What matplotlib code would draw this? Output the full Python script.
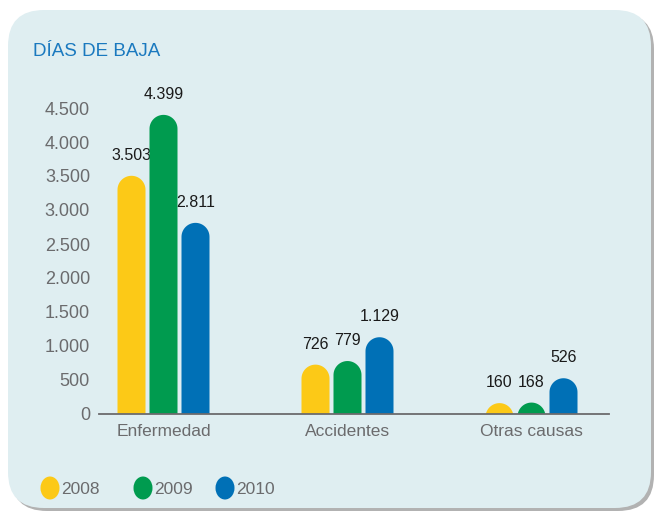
import numpy as np
import matplotlib
matplotlib.use('Agg')
from matplotlib import pyplot as plt
from matplotlib.patches import FancyBboxPatch, Ellipse, PathPatch
from matplotlib.path import Path
from matplotlib.ticker import FuncFormatter

categories = ['Enfermedad', 'Accidentes', 'Otras causas']
years = ['2008', '2009', '2010']
values_2008 = [3503, 726, 160]
values_2009 = [4399, 779, 168]
values_2010 = [2811, 1129, 526]
y_ticks = [0, 500, 1000, 1500, 2000, 2500, 3000, 3500, 4000, 4500]

colors = ['#fcc917', '#009b4f', '#0070b6']
panel_color = '#dfeef1'
gray = '#6b6b6d'
title_color = '#1a79bf'

W, H = 656, 511


def es_number(v):
    # spanish thousands separator
    return '{:,}'.format(int(v)).replace(',', '.')


def rounded_bar(ax, x, value, width, ry, color):
    # one closed outline: flat bottom, straight sides, half-ellipse on top
    rx = width / 2.0
    cy = value - ry
    t = np.linspace(0, np.pi, 40)
    top = np.column_stack([x + rx * np.cos(t), cy + ry * np.sin(t)])
    bottom = min(0, cy)
    verts = np.vstack([[x + rx, bottom], top, [x - rx, bottom], [x + rx, bottom]])
    codes = [Path.MOVETO] + [Path.LINETO] * (len(verts) - 2) + [Path.CLOSEPOLY]
    ax.add_patch(PathPatch(Path(verts, codes), fc=color, ec='none', lw=0, zorder=3))


def main():
    fig = plt.figure(figsize=(W / 100, H / 100), dpi=100)
    fig.patch.set_facecolor('white')

    # background layer in pixel units
    bg = fig.add_axes([0, 0, 1, 1])
    bg.set_xlim(0, W)
    bg.set_ylim(H, 0)
    bg.axis('off')
    shadow = FancyBboxPatch((11, 13), 643, 498, boxstyle='round,pad=0,rounding_size=36',
                            fc='#7f7f7f', ec='none', alpha=0.6)
    bg.add_patch(shadow)
    panel = FancyBboxPatch((8, 10), 643, 498, boxstyle='round,pad=0,rounding_size=36',
                           fc=panel_color, ec='none')
    bg.add_patch(panel)

    bg.text(33, 51, 'DÍAS DE BAJA', color=title_color, fontsize=13.5,
            family='Liberation Sans', va='center', ha='left')

    # legend
    legend_x = [50, 143, 225]
    for lx, year, c in zip(legend_x, years, colors):
        bg.add_patch(Ellipse((lx, 488), 19, 23, color=c, lw=0))
        bg.text(lx + 11, 489, year, color=gray, fontsize=12.5, family='Liberation Sans',
                va='center', ha='left')

    # chart area
    x0_px, x1_px = 99, 609
    y0_px, y1_px = 414, 94.4
    ax = fig.add_axes([x0_px / W, 1 - y0_px / H, (x1_px - x0_px) / W, (y0_px - y1_px) / H])
    ax.patch.set_alpha(0)

    px_per_unit = 184.0
    centre0 = 163.5
    ax.set_xlim((x0_px - centre0) / px_per_unit, (x1_px - centre0) / px_per_unit)
    ymax = 4700
    ax.set_ylim(0, ymax)

    bar_w = 28 / px_per_unit
    offset = 32 / px_per_unit
    data_per_px = ymax / (y0_px - y1_px)
    ry = 14 * data_per_px
    label_gap = 13 * data_per_px

    series = [values_2008, values_2009, values_2010]
    for i, vals in enumerate(series):
        for j, v in enumerate(vals):
            x = j + (i - 1) * offset
            rounded_bar(ax, x, v, bar_w, ry, colors[i])
            ax.text(x, v + label_gap, es_number(v), ha='center', va='bottom',
                    fontsize=11.5, color='#1a1a1a', family='Liberation Sans')

    for s in ['top', 'right', 'left']:
        ax.spines[s].set_visible(False)
    ax.spines['bottom'].set_color(gray)
    ax.spines['bottom'].set_linewidth(1.3)
    ax.spines['bottom'].set_zorder(4)

    ax.set_yticks(y_ticks)
    ax.yaxis.set_major_formatter(FuncFormatter(lambda v, p: es_number(v)))
    ax.set_xticks(range(len(categories)))
    ax.set_xticklabels(categories)
    ax.tick_params(axis='y', length=0, pad=6.5, labelsize=13, labelcolor=gray)
    ax.tick_params(axis='x', length=0, pad=7, labelsize=12.5, labelcolor=gray)
    for lbl in ax.get_xticklabels() + ax.get_yticklabels():
        lbl.set_family('Liberation Sans')

    fig.savefig('out.png', dpi=100, facecolor='white')


if __name__ == '__main__':
    main()
